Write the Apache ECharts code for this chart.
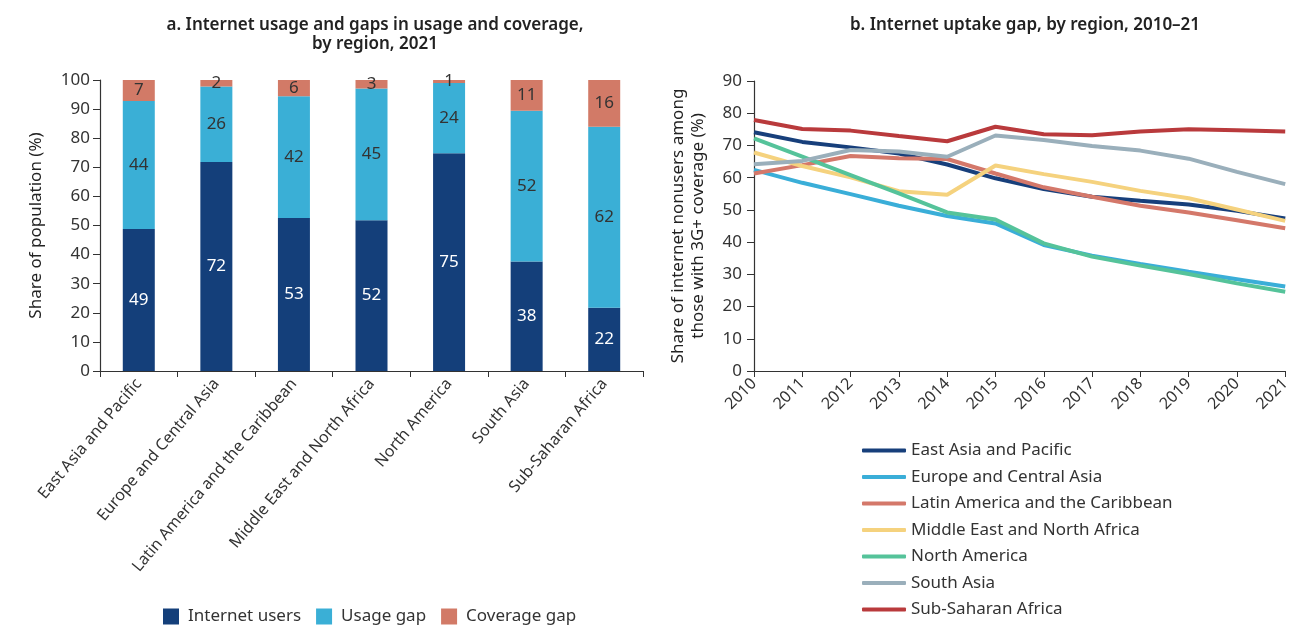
<!DOCTYPE html>
<html><head><meta charset="utf-8">
<script src="https://cdn.jsdelivr.net/npm/echarts@6/dist/echarts.min.js"></script>
<style>html,body{margin:0;padding:0;background:#fff}#c{width:1293px;height:625px}</style>
</head><body><div id="c"></div>
<script>
const regions = ['East Asia and Pacific','Europe and Central Asia','Latin America and the Caribbean','Middle East and North Africa','North America','South Asia','Sub-Saharan Africa'];
const internetUsers = [48.8, 71.8, 52.6, 51.8, 74.8, 37.6, 21.7];
const usageGap      = [44.0, 26.0, 41.8, 45.3, 24.2, 51.8, 62.2];
const coverageGap   = [7.2, 2.2, 5.6, 2.9, 1.0, 10.6, 16.1];
const years = ['2010','2011','2012','2013','2014','2015','2016','2017','2018','2019','2020','2021'];
const eastAsia   = [74.1, 71.1, 69.4, 67.5, 64.1, 59.8, 56.5, 54.1, 52.8, 51.7, 49.7, 47.3];
const europe     = [62.4, 58.4, 54.9, 51.3, 48.1, 45.8, 39.1, 35.8, 33.2, 30.8, 28.5, 26.2];
const latin      = [61.3, 63.9, 66.7, 66.0, 65.8, 61.3, 57.0, 54.1, 51.3, 49.2, 46.8, 44.3];
const mena       = [67.8, 63.6, 60.1, 55.8, 54.7, 63.8, 61.1, 58.7, 55.9, 53.6, 50.1, 46.6];
const northAm    = [72.2, 66.5, 60.8, 55.1, 49.2, 47.0, 39.6, 35.5, 32.7, 30.1, 27.2, 24.6];
const southAsia  = [64.2, 65.2, 68.6, 68.1, 66.5, 73.1, 71.7, 69.8, 68.4, 65.9, 61.8, 58.0];
const ssa        = [77.9, 75.1, 74.6, 72.9, 71.3, 75.8, 73.5, 73.2, 74.3, 75.0, 74.7, 74.3];

const FONT = 'Noto Sans';
const TXT = '#333';
const lineSeries = [
  ['East Asia and Pacific', eastAsia, '#173f7b'],
  ['Europe and Central Asia', europe, '#3aaed8'],
  ['Latin America and the Caribbean', latin, '#d4786a'],
  ['Middle East and North Africa', mena, '#f5d27e'],
  ['North America', northAm, '#55c39a'],
  ['South Asia', southAsia, '#9aafbb'],
  ['Sub-Saharan Africa', ssa, '#b93a3c']
];
const barLabel = (color) => ({show:true, position:'inside', color:color, fontFamily:FONT, fontSize:17, formatter: p => Math.round(p.value)});
const axisLine = {show:true, lineStyle:{color:'#333', width:1.2}};
const chart = echarts.init(document.getElementById('c'), null, {renderer:'canvas'});
chart.setOption({
  animation:false,
  textStyle:{fontFamily:FONT},
  title:[
    {text:'a. Internet usage and gaps in usage and coverage,\nby region, 2021', left:370, textAlign:'center', top:11,
     textStyle:{fontFamily:FONT, fontSize:17, fontWeight:600, color:'#222', lineHeight:19}},
    {text:'b. Internet uptake gap, by region, 2010–21', left:1020, textAlign:'center', top:12,
     textStyle:{fontFamily:FONT, fontSize:17, fontWeight:600, color:'#222'}}
  ],
  legend:[
    {data:['Internet users','Usage gap','Coverage gap'], left:158, top:603, itemWidth:16, itemHeight:16, itemGap:15,
     icon:'rect', textStyle:{fontFamily:FONT, fontSize:17, color:TXT, padding:[0,0,0,4]}},
    {data:lineSeries.map(s=>s[0]), orient:'vertical', left:857, top:437, height:260, itemWidth:44, itemHeight:4, itemGap:9.5,
     icon:'roundRect', textStyle:{fontFamily:FONT, fontSize:17, color:TXT}}
  ],
  grid:[
    {left:100, right:650, top:80, bottom:254},
    {left:754, right:4, top:81, bottom:254}
  ],
  xAxis:[
    {type:'category', gridIndex:0, data:regions, axisLine:axisLine, axisTick:{show:true, length:6, lineStyle:{color:'#333'}},
     axisLabel:{rotate:50, interval:0, fontFamily:FONT, fontSize:16, color:TXT, margin:10}},
    {type:'category', gridIndex:1, data:years, boundaryGap:false, axisLine:axisLine, axisTick:{show:true, length:6, lineStyle:{color:'#333'}},
     axisLabel:{rotate:45, interval:0, fontFamily:FONT, fontSize:16, color:TXT, margin:10}}
  ],
  yAxis:[
    {type:'value', gridIndex:0, min:0, max:100, interval:10, axisLine:axisLine, axisTick:{show:true, length:7, lineStyle:{color:'#333'}},
     splitLine:{show:false}, axisLabel:{fontFamily:FONT, fontSize:17, color:TXT, margin:10},
     name:'Share of population (%)', nameLocation:'middle', nameGap:55, nameTextStyle:{fontFamily:FONT, fontSize:17, color:'#222'}},
    {type:'value', gridIndex:1, min:0, max:90, interval:10, axisLine:axisLine, axisTick:{show:true, length:7, lineStyle:{color:'#333'}},
     splitLine:{show:false}, axisLabel:{fontFamily:FONT, fontSize:17, color:TXT, margin:12},
     name:'Share of internet nonusers among\nthose with 3G+ coverage (%)', nameLocation:'middle', nameGap:46,
     nameTextStyle:{fontFamily:FONT, fontSize:17, color:'#222', lineHeight:20}}
  ],
  series:[
    {name:'Internet users', type:'bar', stack:'a', xAxisIndex:0, yAxisIndex:0, data:internetUsers, barWidth:32,
     itemStyle:{color:'#143f7a'}, label:barLabel('#fff')},
    {name:'Usage gap', type:'bar', stack:'a', xAxisIndex:0, yAxisIndex:0, data:usageGap, barWidth:32,
     itemStyle:{color:'#3aafd6'}, label:barLabel(TXT)},
    {name:'Coverage gap', type:'bar', stack:'a', xAxisIndex:0, yAxisIndex:0, data:coverageGap, barWidth:32,
     itemStyle:{color:'#d27a67'}, label:barLabel(TXT)}
  ].concat(lineSeries.map(s => ({
    name:s[0], type:'line', xAxisIndex:1, yAxisIndex:1, data:s[1], showSymbol:false, symbol:'none',
    lineStyle:{color:s[2], width:4}, itemStyle:{color:s[2]}
  })))
});
</script></body></html>
